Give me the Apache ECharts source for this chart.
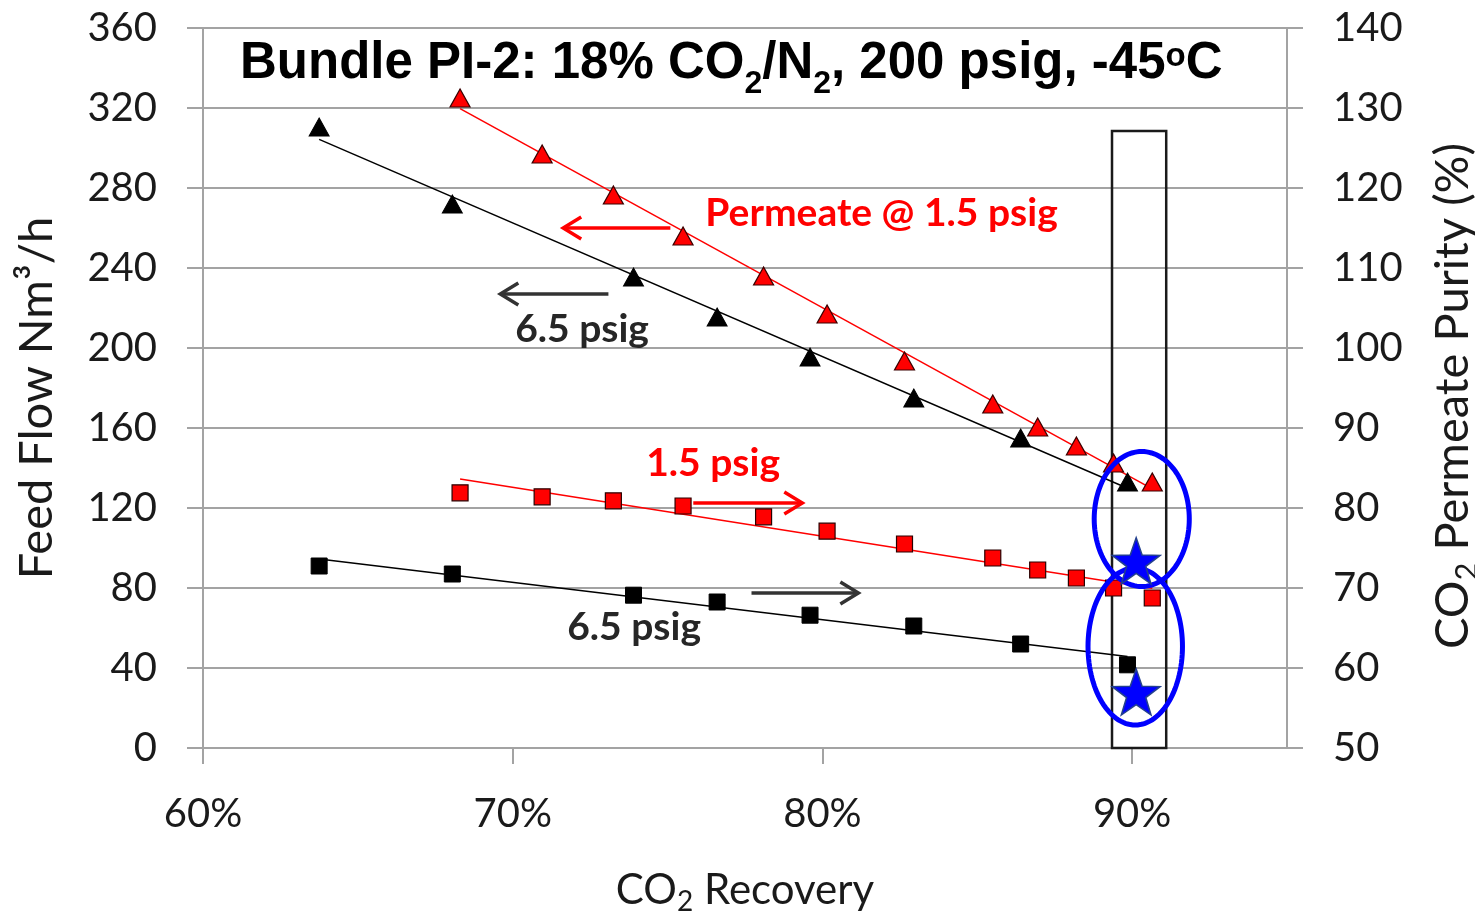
<!DOCTYPE html>
<html><head><meta charset="utf-8">
<script src="https://cdn.jsdelivr.net/npm/echarts@6/dist/echarts.min.js"></script>
<style>html,body{margin:0;padding:0;background:#fff}#c{width:1475px;height:911px}</style>
</head><body><div id="c"></div>
<script>
// ---- data (CO2 recovery in %) ----
const recovery65 = [63.75, 68.05, 73.9, 76.6, 79.6, 82.95, 86.4, 89.85];
const feedFlow65 = [310.5, 272, 235.5, 215.5, 195.5, 175, 155, 133];
const purity65 = [72.75, 71.75, 69.1, 68.25, 66.6, 65.25, 63, 60.4];
const recovery15 = [68.3, 70.95, 73.25, 75.5, 78.1, 80.15, 82.65, 85.5, 86.95, 88.2, 89.4, 90.65];
const feedFlow15 = [325, 297, 276.5, 256, 236, 217, 193.5, 172, 160.5, 151, 142.5, 133];
const purity15 = [81.9, 81.4, 80.9, 80.25, 78.9, 77.1, 75.5, 73.75, 72.25, 71.25, 70, 68.75];
const starRecovery = [90.13, 90.13];
const starPurity = [73.4, 57.0];
const xTickValues = [60, 70, 80, 90];
// annotations (data coordinates, left axis)
const boxRange = [89.35, 91.1, 0, 308.5];            // x1, x2, y1, y2
const ellipseCenters = [[90.31, 114.5], [90.1, 50.75]];
const ellipseRadii = [[1.535, 33.75], [1.525, 39.25]];
const arrowTail = [[75.09, 260], [73.09, 227], [75.83, 122.5], [77.71, 77.5]];
const arrowHead = [[71.63, 260], [69.6, 227], [79.35, 122.5], [81.16, 77.5]];
const noteText = ['Permeate @ 1.5 psig', '6.5 psig', '1.5 psig', '6.5 psig'];
const notePos = [[76.22, 267.5], [70.08, 209.5], [74.31, 142.5], [71.76, 60.5]];

// ---- styles ----
const RED = '#ff0000', DARK = '#262626', BLUE = '#0000ff';
const arrowColors = [RED, '#333333', RED, '#333333'];
const noteColors = [RED, DARK, RED, DARK];
const GRID = '#a3a3a3';
const LABEL = '#1a1a1a';

function fitLine(xs, ys) {
  const n = xs.length;
  const mx = xs.reduce((a, b) => a + b, 0) / n, my = ys.reduce((a, b) => a + b, 0) / n;
  let sxy = 0, sxx = 0;
  for (let i = 0; i < n; i++) { sxy += (xs[i] - mx) * (ys[i] - my); sxx += (xs[i] - mx) ** 2; }
  const b = sxy / sxx, a = my - b * mx;
  const x0 = Math.min(...xs), x1 = Math.max(...xs);
  return [[x0, a + b * x0], [x1, a + b * x1]];
}
function pairs(xs, ys) { return xs.map((x, i) => [x, ys[i]]); }
function starPath() {
  let d = '';
  for (let i = 0; i < 10; i++) {
    const r = i % 2 ? 0.4 : 1;
    const a = (-90 + i * 36) * Math.PI / 180;
    d += (i ? 'L' : 'M') + (r * Math.cos(a)).toFixed(4) + ' ' + (r * Math.sin(a)).toFixed(4);
  }
  return 'path://' + d + 'Z';
}

const chart = echarts.init(document.getElementById('c'));
const font = 'Lato';
function nameRich(size) {
  return {
    a: { fontSize: size, fontFamily: font, color: LABEL, lineHeight: 56 },
    s: { fontSize: Math.round(size * 0.66), fontFamily: font, color: LABEL, lineHeight: Math.round(size * 0.66),
         padding: [26, 0, 56 - 26 - Math.round(size * 0.66), 0] }
  };
}
function axisBase() {
  return {
    axisLine: { show: true, lineStyle: { color: GRID, width: 2 } },
    axisTick: { show: true, inside: false, length: 16, lineStyle: { color: GRID, width: 2 } },
    axisLabel: { fontSize: 40, fontFamily: font, color: LABEL },
  };
}
const TB = { fontWeight: 'bold', fontFamily: 'Liberation Sans', color: '#000' };

const scatterBase = { type: 'scatter', z: 4 };
chart.setOption({
  animation: false,
  backgroundColor: '#fff',
  title: {
    text: '{b|Bundle PI-2: 18% CO}{s|2}{b|/N}{s|2}{b|, 200 psig, -45}{o|o}{b|C}',
    left: 240, top: 28, padding: 0,
    textStyle: {
      rich: {
        b: Object.assign({ fontSize: 51, lineHeight: 72 }, TB),
        s: Object.assign({ fontSize: 32, lineHeight: 32, padding: [40, 0, 0, 0] }, TB),
        o: Object.assign({ fontSize: 33, lineHeight: 33, padding: [12, 0, 27, 0] }, TB)
      }
    }
  },
  grid: { left: 203, right: 188, top: 28, bottom: 163, containLabel: false, outerBoundsMode: 'none' },
  xAxis: Object.assign(axisBase(), {
    type: 'value', min: 60, max: 95, interval: 10,
    splitLine: { show: false },
    axisTick: { show: true, length: 16, lineStyle: { color: GRID, width: 2 }, customValues: xTickValues },
    axisLabel: { fontSize: 40, fontFamily: font, color: LABEL, margin: 46, formatter: '{value}%', customValues: xTickValues },
    name: '{a|CO}{s|2}{a| Recovery}', nameLocation: 'middle', nameGap: 114,
    nameTextStyle: { rich: nameRich(42) }
  }),
  yAxis: [
    Object.assign(axisBase(), {
      type: 'value', min: 0, max: 360, interval: 40, position: 'left',
      splitLine: { show: true, lineStyle: { color: GRID, width: 2 } },
      axisLabel: { fontSize: 40, fontFamily: font, color: LABEL, margin: 46 },
      name: 'Feed Flow Nm³/h', nameLocation: 'middle', nameGap: 143, nameRotate: 90,
      nameTextStyle: { fontSize: 47, fontFamily: font, color: LABEL, padding: [0, 20, 0, 0] }
    }),
    Object.assign(axisBase(), {
      type: 'value', min: 50, max: 140, interval: 10, position: 'right',
      splitLine: { show: false },
      axisLabel: { fontSize: 40, fontFamily: font, color: LABEL, margin: 46 },
      name: '{a|CO}{s|2}{a| Permeate Purity (%)}', nameLocation: 'middle', nameGap: 138, nameRotate: 90,
      nameTextStyle: { rich: nameRich(47), padding: [0, 16, 0, 0] }
    })
  ],
  series: [
    // box around the 90% recovery region
    { type: 'custom', z: 2, silent: true, encode: { x: [0, 1], y: [2, 3] }, data: [boxRange],
      renderItem: (params, api) => {
        const p1 = api.coord([api.value(0), api.value(3)]);
        const p2 = api.coord([api.value(1), api.value(2)]);
        return { type: 'rect', shape: { x: p1[0], y: p1[1], width: p2[0] - p1[0], height: p2[1] - p1[1] },
          style: { fill: 'none', stroke: '#1a1a1a', lineWidth: 2.5 } };
      } },
    // trend lines
    { type: 'line', z: 3, yAxisIndex: 0, data: fitLine(recovery65, feedFlow65), showSymbol: false, symbol: 'none',
      lineStyle: { color: '#000', width: 1.5 } },
    { type: 'line', z: 3, yAxisIndex: 0, data: fitLine(recovery15, feedFlow15), showSymbol: false, symbol: 'none',
      lineStyle: { color: RED, width: 1.5 } },
    { type: 'line', z: 3, yAxisIndex: 1, data: fitLine(recovery15, purity15), showSymbol: false, symbol: 'none',
      lineStyle: { color: RED, width: 1.5 } },
    { type: 'line', z: 3, yAxisIndex: 1, data: fitLine(recovery65, purity65), showSymbol: false, symbol: 'none',
      lineStyle: { color: '#000', width: 1.5 } },
    // markers
    Object.assign({}, scatterBase, { name: 'Feed flow 6.5 psig', yAxisIndex: 0, data: pairs(recovery65, feedFlow65),
      symbol: 'triangle', symbolSize: [20, 18], itemStyle: { color: '#000', borderColor: '#000', borderWidth: 1, opacity: 1 } }),
    Object.assign({}, scatterBase, { name: 'Feed flow 1.5 psig', yAxisIndex: 0, data: pairs(recovery15, feedFlow15),
      symbol: 'triangle', symbolSize: [20, 18], itemStyle: { color: RED, borderColor: '#3a0000', borderWidth: 1.2, opacity: 1 } }),
    Object.assign({}, scatterBase, { name: 'Purity 1.5 psig', yAxisIndex: 1, data: pairs(recovery15, purity15),
      symbol: 'rect', symbolSize: 16, itemStyle: { color: RED, borderColor: '#2a0000', borderWidth: 1.2, opacity: 1 } }),
    Object.assign({}, scatterBase, { name: 'Purity 6.5 psig', yAxisIndex: 1, data: pairs(recovery65, purity65),
      symbol: 'rect', symbolSize: 16, itemStyle: { color: '#000', borderColor: '#000', borderWidth: 1, opacity: 1 } }),
    // ellipses
    { type: 'custom', z: 5, silent: true, yAxisIndex: 0, encode: { x: 0, y: 1 },
      data: ellipseCenters.map((c, i) => [c[0], c[1], ellipseRadii[i][0], ellipseRadii[i][1]]),
      renderItem: (params, api) => {
        const c = api.coord([api.value(0), api.value(1)]);
        const e = api.coord([api.value(0) + api.value(2), api.value(1) + api.value(3)]);
        const rx = e[0] - c[0], ry = c[1] - e[1];
        const pts = [];
        for (let k = 0; k < 120; k++) { const t = k / 120 * Math.PI * 2; pts.push([c[0] + rx * Math.cos(t), c[1] + ry * Math.sin(t)]); }
        return { type: 'polygon', shape: { points: pts }, style: { fill: 'none', stroke: BLUE, lineWidth: 5 } };
      } },
    // stars
    Object.assign({}, scatterBase, { name: 'Target', z: 6, yAxisIndex: 1, data: pairs(starRecovery, starPurity),
      symbol: starPath(), symbolSize: [48, 46], itemStyle: { color: BLUE, borderColor: '#23408e', borderWidth: 1.5, opacity: 1 } }),
    // arrows
    { type: 'custom', z: 5, silent: true, yAxisIndex: 0, encode: { x: [0, 2], y: [1, 3] },
      data: arrowTail.map((t, i) => [t[0], t[1], arrowHead[i][0], arrowHead[i][1]]),
      renderItem: (params, api) => {
        const s = api.coord([api.value(0), api.value(1)]);
        const e = api.coord([api.value(2), api.value(3)]);
        const dir = e[0] > s[0] ? 1 : -1;
        const col = arrowColors[params.dataIndex];
        return { type: 'group', children: [
          { type: 'line', shape: { x1: s[0], y1: s[1], x2: e[0] - dir * 1.5, y2: e[1] }, style: { stroke: col, lineWidth: 3.5 } },
          { type: 'polyline', shape: { points: [[e[0] - dir * 18, e[1] - 11], [e[0], e[1]], [e[0] - dir * 18, e[1] + 11]] },
            style: { stroke: col, lineWidth: 3.5, fill: 'none' } }
        ] };
      } },
    // annotation texts
    { type: 'custom', z: 6, silent: true, yAxisIndex: 0, encode: { x: 0, y: 1 },
      data: notePos,
      renderItem: (params, api) => {
        const p = api.coord([api.value(0), api.value(1)]);
        return { type: 'text', x: p[0], y: p[1],
          style: { text: noteText[params.dataIndex], fill: noteColors[params.dataIndex],
            fontSize: 39, fontWeight: 'bold', fontFamily: font, align: 'left', verticalAlign: 'middle' } };
      } }
  ]
});
</script></body></html>
